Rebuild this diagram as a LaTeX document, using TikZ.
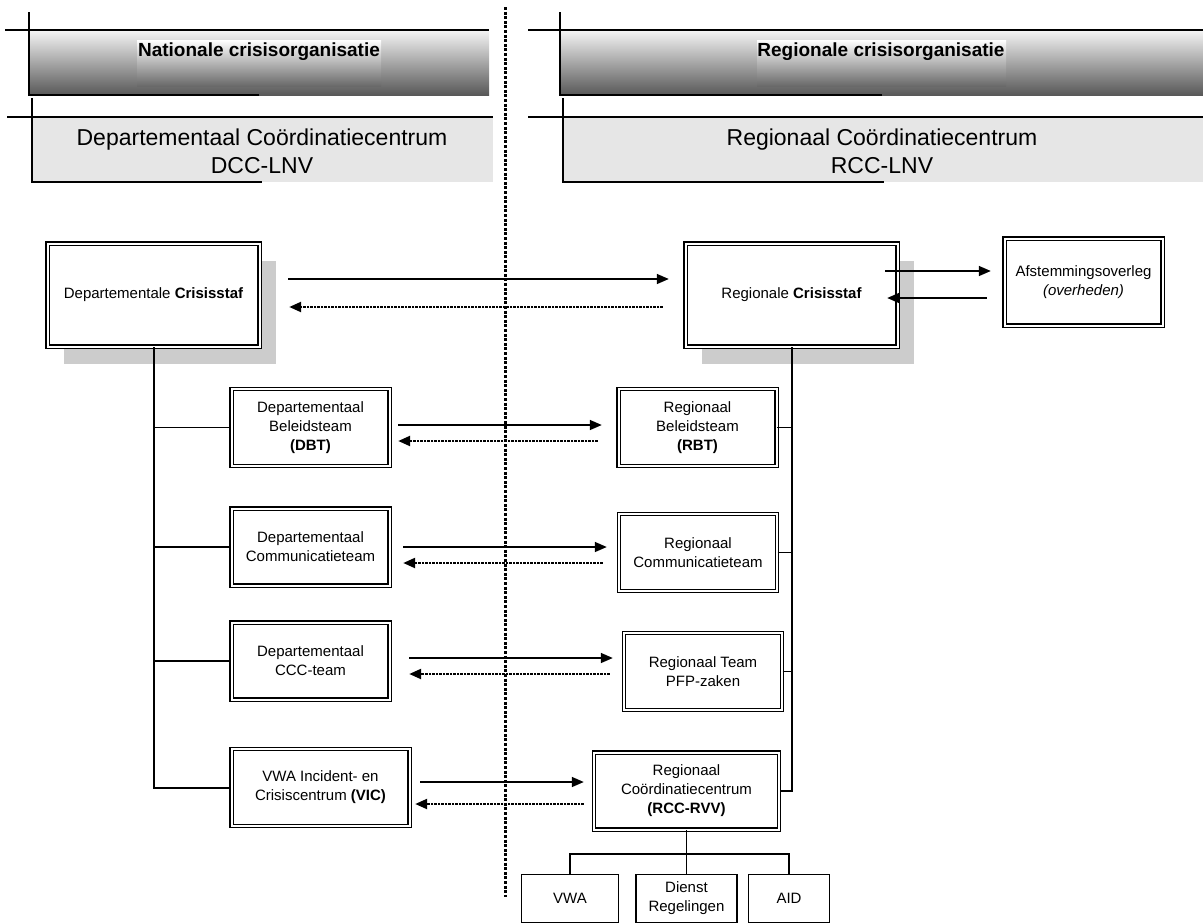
\documentclass[tikz,border=0pt]{standalone}
\usepackage{fontspec}
\setmainfont{Liberation Sans}
\usepackage{tikz}
\usetikzlibrary{arrows.meta,shadows}
\definecolor{bandtop}{RGB}{245,245,245}
\definecolor{bandbot}{RGB}{88,88,88}
\definecolor{capbot}{RGB}{105,105,105}
\definecolor{bandlight}{RGB}{230,230,230}
\definecolor{shadowgray}{RGB}{204,204,204}
\tikzset{
    dbox/.style={draw, double, double distance=2pt, line width=1.4pt, fill=white,
        inner sep=0pt, align=center, font=\fontsize{15}{19}\selectfont},
    team/.style={dbox, minimum width=158pt, minimum height=77pt},
    staf/.style={dbox, minimum width=212pt, minimum height=103pt,
        drop shadow={shadow xshift=16pt, shadow yshift=-17pt, fill=shadowgray, opacity=1}},
    unit/.style={draw, line width=1.5pt, fill=white, inner sep=0pt, align=center,
        minimum height=48pt, font=\fontsize{15}{19}\selectfont},
    heen/.style={-{Triangle[length=12pt,width=10pt]}, line width=1.5pt},
    terug/.style={heen, line width=2.3pt, dash pattern=on 2.4pt off 1.1pt},
    trunk/.style={line width=2pt},
    tak/.style={line width=1.5pt},
    rand/.style={line width=1.8pt},
    kop/.style={font=\fontsize{19}{23}\selectfont\bfseries},
    centrum/.style={align=center, font=\fontsize{23}{28}\selectfont}
}
\begin{document}
\begin{tikzpicture}[x=1pt,y=-1pt]
                \useasboundingbox (0,0) rectangle (1203,924);
                \shade[top color=bandtop, bottom color=bandbot] (29,30) rectangle (489,95);
                \shade[top color=white, bottom color=capbot] (137,40) rectangle (381,86);
                \draw[rand] (5,30) -- (489,30) (29,12) -- (29,95) -- (259,95);
                \shade[top color=bandtop, bottom color=bandbot] (560,30) rectangle (1203,95);
                \shade[top color=white, bottom color=capbot] (757,40) rectangle (1006,86);
                \draw[rand] (528,30) -- (1203,30) (560,12) -- (560,95) -- (882,95);
                \fill[bandlight] (32,117) rectangle (493,182);
                \draw[rand] (7,117) -- (493,117) (32,98) -- (32,182) -- (262,182);
                \fill[bandlight] (563,117) rectangle (1203,182);
                \draw[rand] (528,117) -- (1203,117) (563,98) -- (563,182) -- (884,182);
                \node[kop] (natl) at (259,52) {Nationale crisisorganisatie};
                \node[kop] (regl) at (881,52) {Regionale crisisorganisatie};
                \node[centrum] (dcc) at (262,151) {Departementaal Coördinatiecentrum\\DCC-LNV};
                \node[centrum] (rcc) at (882,151) {Regionaal Coördinatiecentrum\\RCC-LNV};
                \draw[line width=3pt, dash pattern=on 3pt off 1.6pt] (505,7) -- (505,897);

                \node[staf] (dcs) at (153.5,295) {Departementale \textbf{Crisisstaf}};
                \node[staf] (rcs) at (791.5,295) {Regionale \textbf{Crisisstaf}};
                \node[dbox, minimum width=158pt, minimum height=87pt] (afst) at (1083.5,282) {Afstemmingsoverleg\\\textit{(overheden)}};
                \node[team] (dbt) at (310.5,427.5) {Departementaal\\Beleidsteam\\\textbf{(DBT)}};
                \node[team] (rbt) at (697.5,427.5) {Regionaal\\Beleidsteam\\\textbf{(RBT)}};
                \node[team] (dct) at (310.5,547) {Departementaal\\Communicatieteam};
                \node[team] (rct) at (698,552.5) {Regionaal\\Communicatieteam};
                \node[team] (dccc) at (310.5,661) {Departementaal\\CCC-team};
                \node[team] (pfp) at (703,671.5) {Regionaal Team\\PFP-zaken};
                \node[team, minimum width=178pt] (vic) at (320.5,787.5) {VWA Incident- en\\Crisiscentrum \textbf{(VIC)}};
                \node[team, minimum width=185pt] (rvv) at (686.5,791) {Regionaal\\Coördinatiecentrum\\\textbf{(RCC-RVV)}};
                \node[unit, minimum width=97pt] (vwa) at (570,898.5) {VWA};
                \node[unit, minimum width=101pt] (dr) at (686.5,898.5) {Dienst\\Regelingen};
                \node[unit, minimum width=81pt] (aid) at (789,898.5) {AID};
                \coordinate (knoop) at (686.5,854);

                \draw[trunk] (dcs.south) |- (vic.west);
                \foreach \n in {dbt,dct,dccc}
                    \draw[tak] (\n.west) -- (\n.west -| dcs.south);
                \draw[trunk] (rcs.south) |- (rvv.east);
                \foreach \n in {rbt,rct,pfp}
                    \draw[tak] (\n.east) -- (\n.east -| rcs.south);
                \draw[tak] (rvv.south) -- (dr.north);
                \draw[tak] (vwa.north) |- (knoop) -| (aid.north);

                \draw[heen] ([shift={(28,-16)}]dcs.east) -- ([shift={(-16,-16)}]rcs.west);
                \draw[terug] ([shift={(-22,12)}]rcs.west) -- ([shift={(29,12)}]dcs.east);
                \draw[heen] ([shift={(-13,-24)}]rcs.east) -- ([shift={(-13,-11)}]afst.west);
                \draw[heen] ([shift={(-17,16)}]afst.west) -- ([shift={(-11,3)}]rcs.east);
                \draw[heen] ([shift={(8,-2.5)}]dbt.east) -- ([shift={(-16,-2.5)}]rbt.west);
                \draw[terug] ([shift={(-20,13.5)}]rbt.west) -- ([shift={(8,13.5)}]dbt.east);
                \draw[heen] ([shift={(13,0)}]dct.east) -- ([shift={(-11.5,-5.5)}]rct.west);
                \draw[terug] ([shift={(-15.5,10.5)}]rct.west) -- ([shift={(13,16)}]dct.east);
                \draw[heen] ([shift={(19,-3)}]dccc.east) -- ([shift={(-10.5,-13.5)}]pfp.west);
                \draw[terug] ([shift={(-13.5,2.5)}]pfp.west) -- ([shift={(19,13)}]dccc.east);
                \draw[heen] ([shift={(10,-5.5)}]vic.east) -- ([shift={(-9.5,-9)}]rvv.west);
                \draw[terug] ([shift={(-9.5,13)}]rvv.west) -- ([shift={(5,16.5)}]vic.east);
\end{tikzpicture}
\end{document}
